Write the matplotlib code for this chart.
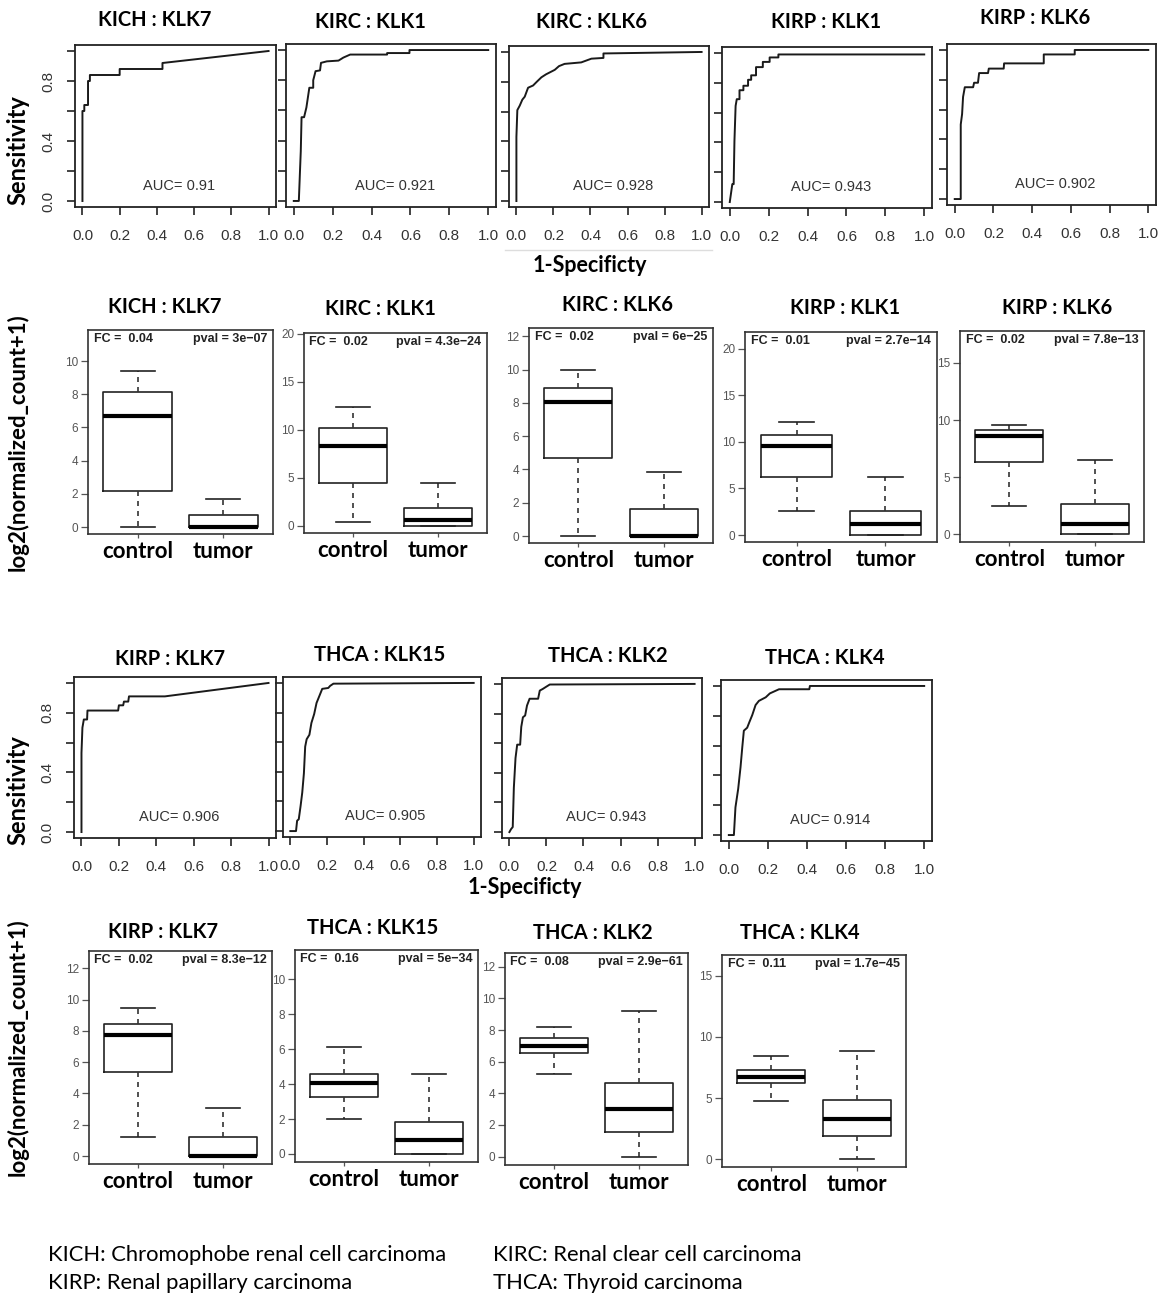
import matplotlib.pyplot as plt

# ---------------- data: ROC curves (1-specificity, sensitivity) ----------------
kich_klk7_fpr = [0, 0, 0.01, 0.01, 0.03, 0.03, 0.04, 0.04, 0.2, 0.2, 0.43, 0.43, 1.0]
kich_klk7_tpr = [0, 0.6, 0.6, 0.64, 0.64, 0.8, 0.8, 0.84, 0.84, 0.88, 0.88, 0.92, 1.0]

kirc_klk1_fpr = [0, 0.026, 0.032, 0.036, 0.04, 0.053, 0.065, 0.08, 0.1, 0.1, 0.112, 0.135,
                 0.14, 0.17, 0.23, 0.255, 0.29, 0.48, 0.48, 0.595, 0.595, 1.0]
kirc_klk1_tpr = [0, 0, 0.2, 0.33, 0.555, 0.555, 0.62, 0.75, 0.75, 0.8, 0.86, 0.865,
                 0.915, 0.925, 0.93, 0.95, 0.97, 0.97, 0.98, 0.98, 1.0, 1.0]

kirc_klk6_fpr = [0, 0, 0.005, 0.018, 0.032, 0.045, 0.063, 0.09, 0.11, 0.135, 0.16, 0.207,
                 0.23, 0.26, 0.35, 0.405, 0.47, 0.47, 1.0]
kirc_klk6_tpr = [0, 0.43, 0.61, 0.64, 0.68, 0.70, 0.76, 0.775, 0.8, 0.83, 0.85, 0.88,
                 0.905, 0.92, 0.93, 0.955, 0.96, 0.99, 1.0]

kirp_klk1_fpr = [0, 0.013, 0.02, 0.024, 0.03, 0.036, 0.05, 0.05, 0.07, 0.07, 0.094, 0.094,
                 0.11, 0.11, 0.135, 0.135, 0.17, 0.17, 0.205, 0.205, 0.25, 0.25, 1.0]
kirp_klk1_tpr = [0, 0.12, 0.12, 0.41, 0.645, 0.69, 0.69, 0.75, 0.75, 0.78, 0.78, 0.82,
                 0.82, 0.85, 0.85, 0.905, 0.905, 0.94, 0.94, 0.97, 0.97, 0.99, 0.99]

kirp_klk6_fpr = [0, 0.031, 0.031, 0.038, 0.043, 0.052, 0.095, 0.1, 0.12, 0.126, 0.172, 0.176,
                 0.253, 0.255, 0.46, 0.46, 0.62, 0.62, 1.0]
kirp_klk6_tpr = [0, 0, 0.5, 0.57, 0.685, 0.75, 0.75, 0.78, 0.78, 0.845, 0.845, 0.875,
                 0.875, 0.91, 0.91, 0.97, 0.97, 1.0, 1.0]

kirp_klk7_fpr = [0, 0, 0.005, 0.0125, 0.03, 0.032, 0.196, 0.2, 0.223, 0.227, 0.25, 0.254,
                 0.446, 1.0]
kirp_klk7_tpr = [0, 0.53, 0.70, 0.755, 0.755, 0.815, 0.815, 0.85, 0.85, 0.875, 0.875, 0.91,
                 0.91, 1.0]

thca_klk15_fpr = [0, 0.031, 0.037, 0.046, 0.056, 0.065, 0.074, 0.081, 0.089, 0.104, 0.115,
                  0.13, 0.143, 0.161, 0.174, 0.207, 0.217, 0.235, 1.0]
thca_klk15_tpr = [0, 0, 0.07, 0.08, 0.17, 0.26, 0.39, 0.57, 0.62, 0.65, 0.73,
                  0.79, 0.865, 0.92, 0.96, 0.966, 0.98, 0.995, 1.0]

thca_klk2_fpr = [0, 0.009, 0.018, 0.024, 0.033, 0.042, 0.058, 0.064, 0.073, 0.085, 0.095,
                 0.109, 0.155, 0.164, 0.18, 0.2, 0.218, 1.0]
thca_klk2_tpr = [0, 0.02, 0.034, 0.3, 0.5, 0.59, 0.59, 0.71, 0.775, 0.787, 0.854,
                 0.9, 0.9, 0.955, 0.966, 0.982, 0.996, 1.0]

thca_klk4_fpr = [0, 0.026, 0.034, 0.048, 0.06, 0.069, 0.077, 0.094, 0.106, 0.12, 0.137,
                 0.154, 0.189, 0.21, 0.257, 0.412, 0.415, 1.0]
thca_klk4_tpr = [0, 0, 0.186, 0.31, 0.456, 0.59, 0.7, 0.72, 0.76, 0.805, 0.872,
                 0.9, 0.924, 0.95, 0.978, 0.978, 1.0, 1.0]

panel_titles = ['KICH : KLK7', 'KIRC : KLK1', 'KIRC : KLK6', 'KIRP : KLK1', 'KIRP : KLK6',
                'KIRP : KLK7', 'THCA : KLK15', 'THCA : KLK2', 'THCA : KLK4']
roc_auc = ['0.91', '0.921', '0.928', '0.943', '0.902', '0.906', '0.905', '0.943', '0.914']

# ---------------- data: boxplots [whislo, q1, median, q3, whishi] ----------------
kich_klk7_control = [0.0, 2.2, 6.7, 8.15, 9.4]
kich_klk7_tumor = [0.0, 0.0, 0.0, 0.75, 1.7]
kirc_klk1_control = [0.45, 4.45, 8.37, 10.24, 12.36]
kirc_klk1_tumor = [0.0, 0.05, 0.62, 1.85, 4.5]
kirc_klk6_control = [0.0, 4.7, 8.05, 8.9, 9.95]
kirc_klk6_tumor = [0.0, 0.0, 0.0, 1.6, 3.85]
kirp_klk1_control = [2.58, 6.27, 9.57, 10.7, 12.1]
kirp_klk1_tumor = [0.0, 0.0, 1.18, 2.58, 6.2]
kirp_klk6_control = [2.48, 6.37, 8.56, 9.09, 9.59]
kirp_klk6_tumor = [0.0, 0.0, 0.88, 2.63, 6.52]
kirp_klk7_control = [1.24, 5.4, 7.76, 8.44, 9.46]
kirp_klk7_tumor = [0.0, 0.0, 0.0, 1.24, 3.1]
thca_klk15_control = [2.0, 3.28, 4.08, 4.58, 6.14]
thca_klk15_tumor = [0.0, 0.0, 0.8, 1.81, 4.58]
thca_klk2_control = [5.22, 6.53, 7.01, 7.48, 8.17]
thca_klk2_tumor = [0.0, 1.54, 2.99, 4.67, 9.2]
thca_klk4_control = [4.8, 6.22, 6.76, 7.31, 8.45]
thca_klk4_tumor = [0.0, 1.91, 3.3, 4.85, 8.86]

box_fc = ['0.04', '0.02', '0.02', '0.01', '0.02', '0.02', '0.16', '0.08', '0.11']
box_pval = ['3e\u221207', '4.3e\u221224', '6e\u221225', '2.7e\u221214', '7.8e\u221213',
            '8.3e\u221212', '5e\u221234', '2.9e\u221261', '1.7e\u221245']
groups = ['control', 'tumor']

footnotes = ['KICH: Chromophobe renal cell carcinoma', 'KIRC: Renal clear cell carcinoma',
             'KIRP: Renal papillary carcinoma', 'THCA: Thyroid carcinoma']

# ---------------- layout (pixels) ----------------
W, H = 1161, 1293
fig = plt.figure(figsize=(W / 100, H / 100), dpi=100)

LATO = ['Lato', 'DejaVu Sans']
ARIAL = ['Liberation Sans', 'DejaVu Sans']
NARROW = ['Liberation Sans Narrow', 'Liberation Sans', 'DejaVu Sans']


def add_ax(l, t, r, b):
    return fig.add_axes([l / W, 1 - b / H, (r - l) / W, (b - t) / H])


def ftext(x, y, s, **kw):
    fig.text(x / W, 1 - y / H, s, **kw)


roc_rects = [(75, 45, 276, 207), (286, 44, 496, 207), (509, 46, 709, 207),
             (722, 47, 932, 208), (947, 44, 1156, 205),
             (74, 677, 276, 838), (283, 677, 481, 837), (502, 678, 702, 838),
             (721, 680, 932, 841)]
roc_tpos = [(155, 20), (370, 22), (592, 22), (826, 22), (1035, 18),
            (170, 659), (380, 655), (608, 656), (825, 658)]
roc_data = [(kich_klk7_fpr, kich_klk7_tpr), (kirc_klk1_fpr, kirc_klk1_tpr),
            (kirc_klk6_fpr, kirc_klk6_tpr), (kirp_klk1_fpr, kirp_klk1_tpr),
            (kirp_klk6_fpr, kirp_klk6_tpr), (kirp_klk7_fpr, kirp_klk7_tpr),
            (thca_klk15_fpr, thca_klk15_tpr), (thca_klk2_fpr, thca_klk2_tpr),
            (thca_klk4_fpr, thca_klk4_tpr)]

for i, (fpr, tpr) in enumerate(roc_data):
    ax = add_ax(*roc_rects[i])
    ax.plot(fpr, tpr, color='#1a1a1a', lw=1.4)
    ax.set_xlim(-0.04, 1.04)
    ax.set_ylim(-0.04, 1.04)
    ax.set_xticks([0, 0.2, 0.4, 0.6, 0.8, 1.0])
    ax.set_xticklabels(['0.0', '0.2', '0.4', '0.6', '0.8', '1.0'], family=ARIAL,
                       fontsize=11, color='#333333')
    ax.set_yticks([0, 0.2, 0.4, 0.6, 0.8, 1.0])
    if i in (0, 5):
        ax.set_yticklabels(['0.0', '', '0.4', '', '0.8', ''], family=ARIAL,
                           fontsize=11, color='#333333', rotation=90, va='center')
    else:
        ax.set_yticklabels([])
    ax.tick_params(axis='x', length=6, width=1.2, color='#222222', pad=10)
    ax.tick_params(axis='y', length=6, width=1.2, color='#222222', pad=8)
    for sp in ax.spines.values():
        sp.set_linewidth(1.3)
        sp.set_color('#222222')
    ax.text(0.52, 0.1, 'AUC= ' + roc_auc[i], family=ARIAL, fontsize=10.5,
            color='#333333', ha='center', va='center')
    ftext(*roc_tpos[i], panel_titles[i], family=LATO, fontweight='bold', fontsize=14.5,
          ha='center', va='center')

# boxplot panels
box_rects = [(88, 330, 273, 534), (304, 333, 487, 533), (529, 328, 713, 543),
             (745, 332, 937, 542), (960, 331, 1144, 542),
             (89, 951, 272, 1164), (295, 950, 478, 1162), (505, 953, 688, 1165),
             (722, 955, 906, 1167)]
box_tpos = [(165, 307), (380, 309), (618, 305), (845, 308), (1057, 308),
            (163, 932), (373, 928), (593, 933), (800, 933)]
box_ylim = [(-0.42, 11.87), (-0.73, 20.1), (-0.42, 12.5), (-0.75, 21.8), (-0.68, 17.8),
            (-0.51, 13.1), (-0.46, 11.68), (-0.53, 12.87), (-0.63, 16.7)]
box_yticks = [range(0, 11, 2), range(0, 21, 5), range(0, 13, 2), range(0, 21, 5),
              range(0, 16, 5), range(0, 13, 2), range(0, 11, 2), range(0, 13, 2),
              range(0, 16, 5)]
box_data = [(kich_klk7_control, kich_klk7_tumor), (kirc_klk1_control, kirc_klk1_tumor),
            (kirc_klk6_control, kirc_klk6_tumor), (kirp_klk1_control, kirp_klk1_tumor),
            (kirp_klk6_control, kirp_klk6_tumor), (kirp_klk7_control, kirp_klk7_tumor),
            (thca_klk15_control, thca_klk15_tumor), (thca_klk2_control, thca_klk2_tumor),
            (thca_klk4_control, thca_klk4_tumor)]

for i, (ctrl, tum) in enumerate(box_data):
    ax = add_ax(*box_rects[i])
    stats = []
    for name, s in zip(groups, (ctrl, tum)):
        stats.append({'whislo': s[0], 'q1': s[1], 'med': s[2], 'q3': s[3],
                      'whishi': s[4], 'fliers': [], 'label': name})
    ax.bxp(stats, positions=[1, 2], widths=0.8, capwidths=0.4, showfliers=False,
           boxprops=dict(color='#222222', lw=1.2),
           medianprops=dict(color='black', lw=3),
           whiskerprops=dict(color='#333333', lw=1.2, linestyle=(0, (3, 3))),
           capprops=dict(color='#222222', lw=1.2))
    ax.set_xlim(0.42, 2.58)
    ax.set_ylim(*box_ylim[i])
    ax.set_yticks(list(box_yticks[i]))
    ax.set_yticklabels([str(v) for v in box_yticks[i]], family=ARIAL, fontsize=8.5,
                       color='#555555')
    ax.set_xticks([1, 2])
    ax.set_xticklabels(groups, family=LATO, fontweight='bold', fontsize=16)
    ax.tick_params(axis='y', length=5, width=0.9, color='#555555', pad=2)
    ax.tick_params(axis='x', length=3, width=0.9, color='#555555', pad=2)
    for sp in ax.spines.values():
        sp.set_linewidth(1.2)
        sp.set_color('#333333')
    ax.text(0.03, 0.985, 'FC =  ' + box_fc[i], transform=ax.transAxes, family=NARROW,
            fontweight='bold', fontsize=9, color='#222222', ha='left', va='top')
    ax.text(0.97, 0.985, 'pval = ' + box_pval[i], transform=ax.transAxes, family=NARROW,
            fontweight='bold', fontsize=9, color='#222222', ha='right', va='top')
    ftext(*box_tpos[i], panel_titles[i], family=LATO, fontweight='bold', fontsize=14.5,
          ha='center', va='center')

# shared axis labels
for y in (150, 790):
    ftext(18, y, 'Sensitivity', family=LATO, fontweight='bold', fontsize=17,
          rotation=90, ha='center', va='center')
for y in (442, 1047):
    ftext(18, y, 'log2(normalized_count+1)', family=LATO, fontweight='bold', fontsize=16,
          rotation=90, ha='center', va='center')
ftext(590, 265, '1-Specificty', family=LATO, fontweight='bold', fontsize=15.5,
      ha='center', va='center')
ftext(525, 887, '1-Specificty', family=LATO, fontweight='bold', fontsize=15.5,
      ha='center', va='center')
fig.add_artist(plt.Line2D([505 / W, 712 / W], [1 - 250 / H, 1 - 250 / H],
                          color='#dddddd', lw=1))

# footnotes
ftext(48, 1255, footnotes[0], family=LATO, fontsize=15.8, ha='left', va='center')
ftext(493, 1255, footnotes[1], family=LATO, fontsize=15.8, ha='left', va='center')
ftext(48, 1283, footnotes[2], family=LATO, fontsize=15.8, ha='left', va='center')
ftext(493, 1283, footnotes[3], family=LATO, fontsize=15.8, ha='left', va='center')

fig.savefig('out.png', dpi=100)
